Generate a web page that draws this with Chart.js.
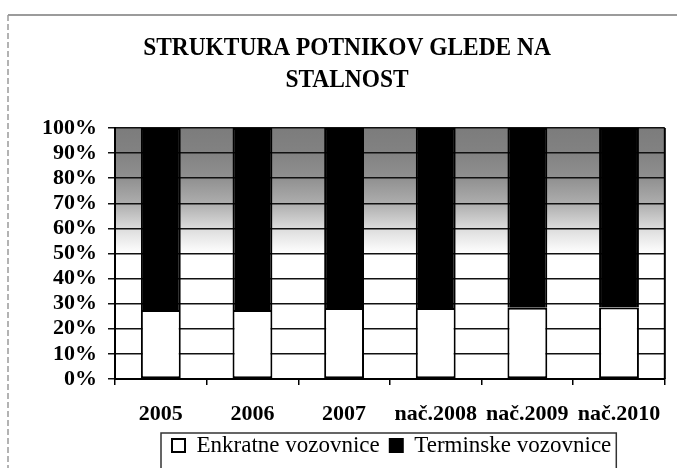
<!DOCTYPE html>
<html>
<head>
<meta charset="utf-8">
<script src="https://cdn.jsdelivr.net/npm/chart.js@4.4.1/dist/chart.umd.min.js"></script>
<style>
  html, body { margin: 0; padding: 0; background: #fff; overflow: hidden; }
  #wrap { width: 677px; height: 476px; }
</style>
</head>
<body>
<div id="wrap"><canvas id="chart" width="677" height="476"></canvas></div>
<script>
// data
const categories = ['2005', '2006', '2007', 'nač.2008', 'nač.2009', 'nač.2010'];
const enkratne = [27.5, 27.5, 28.3, 28.3, 28.4, 28.5];
const terminske = [72.5, 72.5, 71.7, 71.7, 71.6, 71.5];
const seriesNames = ['Enkratne vozovnice', 'Terminske vozovnice'];
const titleLines = ['STRUKTURA POTNIKOV GLEDE NA', 'STALNOST'];
const yStep = 10;

const serif = '"Liberation Serif", "Times New Roman", serif';

// frame, gray textured plot background, title
const decorPlugin = {
    id: 'decor',
    beforeDraw(chart) {
        const ctx = chart.ctx;
        const a = chart.chartArea;
        const y = chart.scales.y;
        ctx.save();
        ctx.fillStyle = '#fff';
        ctx.fillRect(0, 0, chart.width, chart.height);

        // shaded upper half of plot
        const g = ctx.createLinearGradient(0, y.getPixelForValue(100), 0, y.getPixelForValue(50));
        g.addColorStop(0, '#7c7c7c');
        g.addColorStop(0.2, '#828282');
        g.addColorStop(0.4, '#909090');
        g.addColorStop(0.6, '#adadad');
        g.addColorStop(0.8, '#dcdcdc');
        g.addColorStop(1, '#ffffff');
        ctx.fillStyle = g;
        ctx.fillRect(a.left, a.top, a.right - a.left, a.bottom - a.top);

        // outer frame (top + left)
        ctx.strokeStyle = '#7a7a7a';
        ctx.lineWidth = 1.5;
        ctx.beginPath();
        ctx.moveTo(8, 15);
        ctx.lineTo(chart.width, 15);
        ctx.stroke();
        ctx.strokeStyle = '#9a9a9a';
        ctx.setLineDash([6, 3]);
        ctx.beginPath();
        ctx.moveTo(8, 15);
        ctx.lineTo(8, chart.height);
        ctx.stroke();
        ctx.setLineDash([]);

        // title, slightly condensed
        ctx.fillStyle = '#000';
        ctx.font = 'bold 26px ' + serif;
        ctx.textAlign = 'center';
        ctx.textBaseline = 'alphabetic';
        const cx = 347;
        [55, 87].forEach((by, i) => {
            ctx.save();
            ctx.translate(cx, by);
            ctx.scale(0.9, 1);
            ctx.fillText(titleLines[i], 0, 0);
            ctx.restore();
        });
        ctx.restore();
    },
    afterUpdate(chart) {
        // move legend to where it sits in the original
        const lg = chart.legend;
        const hb = lg.legendHitBoxes;
        if (!hb || !hb.length) return;
        const shift = 172 - hb[0].left;
        lg.left += shift;
        lg.right += shift;
        hb.forEach(h => { h.left += shift; });
    },
    afterDraw(chart) {
        const ctx = chart.ctx;
        const a = chart.chartArea;
        ctx.save();
        // right edge of plot
        ctx.strokeStyle = '#000';
        ctx.lineWidth = 2;
        ctx.beginPath();
        ctx.moveTo(a.right, a.top);
        ctx.lineTo(a.right, a.bottom);
        ctx.stroke();
        // legend frame
        const hb = chart.legend.legendHitBoxes;
        const last = hb[hb.length - 1];
        const l = hb[0].left - 11;
        const r = last.left + last.width + 5;
        const t = chart.legend.top + 9;
        ctx.strokeStyle = '#333';
        ctx.lineWidth = 1.5;
        ctx.strokeRect(l, t, r - l, chart.height + 10 - t);
        ctx.restore();
    }
};

const chart = new Chart(document.getElementById('chart'), {
    type: 'bar',
    data: {
        labels: categories,
        datasets: [{
            label: seriesNames[0],
            data: enkratne,
            backgroundColor: '#ffffff',
            borderColor: '#000000',
            borderWidth: 2,
            borderSkipped: false
        }, {
            label: seriesNames[1],
            data: terminske,
            backgroundColor: '#000000',
            borderColor: '#000000',
            borderWidth: 2
        }]
    },
    options: {
        responsive: false,
        animation: false,
        devicePixelRatio: 1,
        categoryPercentage: 1,
        barPercentage: 0.435,
        layout: { padding: { top: 128, left: 8, right: 9, bottom: 9 } },
        scales: {
            x: {
                stacked: true,
                afterFit(scale) { scale.height = 45; },
                grid: {
                    display: true,
                    drawOnChartArea: false,
                    drawTicks: true,
                    tickLength: 6,
                    color: '#000',
                    lineWidth: 1.5
                },
                border: { display: true, color: '#000', width: 2 },
                ticks: {
                    color: '#000',
                    padding: 16,
                    maxRotation: 0,
                    font: { family: serif, size: 22, weight: 'bold' }
                }
            },
            y: {
                stacked: true,
                min: 0,
                max: 100,
                afterFit(scale) { scale.width = 107; },
                grid: {
                    color: '#111',
                    lineWidth: 1.5,
                    tickLength: 7,
                    drawTicks: true
                },
                border: { display: true, color: '#000', width: 2 },
                ticks: {
                    stepSize: yStep,
                    autoSkip: false,
                    color: '#000',
                    padding: 11,
                    font: { family: serif, size: 22, weight: 'bold' },
                    callback: v => v + '%'
                }
            }
        },
        plugins: {
            title: { display: false },
            tooltip: { enabled: false },
            legend: {
                position: 'bottom',
                labels: {
                    color: '#000',
                    boxWidth: 13,
                    boxHeight: 13,
                    padding: 10,
                    font: { family: serif, size: 23 }
                }
            }
        }
    },
    plugins: [decorPlugin]
});
</script>
</body>
</html>
